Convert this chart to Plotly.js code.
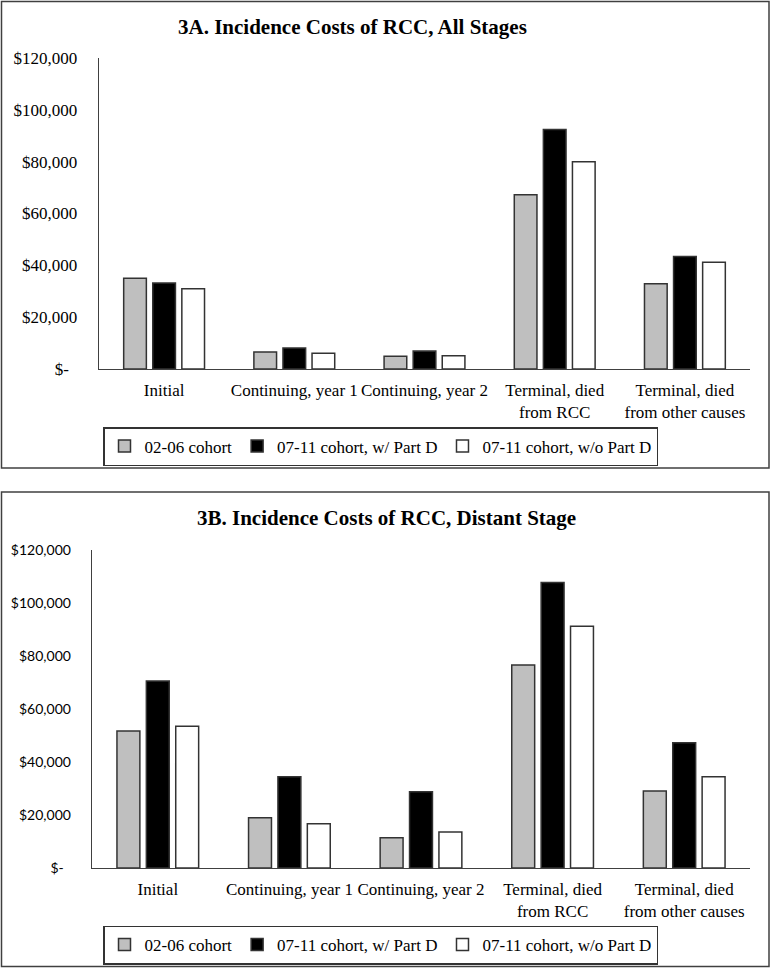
<!DOCTYPE html>
<html>
<head>
<meta charset="utf-8">
<script src="https://cdn.plot.ly/plotly-3.0.1.min.js"></script>
<style>
html,body{margin:0;padding:0;background:#fff;}
#chart{width:771px;height:968px;}
</style>
</head>
<body>
<div id="chart"></div>
<script>
// ---- data ----
const categories = ['Initial', 'Continuing, year 1', 'Continuing, year 2', 'Terminal, died<br>from RCC', 'Terminal, died<br>from other causes'];
const seriesNames = ['02-06 cohort', '07-11 cohort, w/ Part D', '07-11 cohort, w/o Part D'];

const allStages_0206 = [35000, 6600, 4900, 67200, 32900];
const allStages_withD = [33200, 8100, 6900, 92400, 43400];
const allStages_withoutD = [31000, 6100, 5100, 80000, 41200];

const distant_0206 = [51600, 18900, 11400, 76500, 29000];
const distant_withD = [70500, 34400, 28700, 107600, 47200];
const distant_withoutD = [53400, 16700, 13600, 91100, 34400];

const yTickVals = [0, 20000, 40000, 60000, 80000, 100000, 120000];
const yTickText = ['$-\u00a0\u00a0', '$20,000', '$40,000', '$60,000', '$80,000', '$100,000', '$120,000'];

const titleA = '3A. Incidence Costs of RCC, All Stages';
const titleB = '3B. Incidence Costs of RCC, Distant Stage';

// ---- styling ----
const W = 771, H = 968;
const px = x => x / W;
const py = y => 1 - y / H;
const fills = ['#bfbfbf', '#000000', '#ffffff'];
const edge = '#333333';
const serif = 'Liberation Serif';

function bars(values, i, xa, ya, leg) {
  return {
    type: 'bar', x: categories, y: values, name: seriesNames[i],
    xaxis: xa, yaxis: ya, legend: leg,
    marker: {color: fills[i], line: {color: edge, width: 1.5}},
    hoverinfo: 'y'
  };
}

const data = [
  bars(allStages_0206, 0, 'x', 'y', 'legend'),
  bars(allStages_withD, 1, 'x', 'y', 'legend'),
  bars(allStages_withoutD, 2, 'x', 'y', 'legend'),
  bars(distant_0206, 0, 'x2', 'y2', 'legend2'),
  bars(distant_withD, 1, 'x2', 'y2', 'legend2'),
  bars(distant_withoutD, 2, 'x2', 'y2', 'legend2')
];

const xBase = {
  type: 'category', showline: true, linecolor: '#404040', linewidth: 1.3,
  showgrid: false, zeroline: false, ticks: '', tickangle: 0,
  tickfont: {family: serif, size: 17, color: '#000'}, ticklabelstandoff: 5,
  fixedrange: true
};
const yBase = {
  range: [0, 120000], tickvals: yTickVals, ticktext: yTickText,
  showline: true, linecolor: '#404040', linewidth: 1.3,
  showgrid: false, zeroline: false, ticks: '', ticklabelstandoff: 17,
  fixedrange: true
};

const legBase = {
  orientation: 'h', xanchor: 'left', yanchor: 'top',
  bordercolor: '#333', borderwidth: 1.5, bgcolor: '#fff',
  font: {family: serif, size: 17, color: '#000'},
  itemwidth: 30, traceorder: 'normal'
};

const layout = {
  width: W, height: H,
  margin: {l: 0, r: 0, t: 0, b: 0},
  paper_bgcolor: '#fff', plot_bgcolor: '#fff',
  barmode: 'group', bargap: 0.33, bargroupgap: 0.22,
  showlegend: true,
  xaxis: Object.assign({}, xBase, {domain: [px(99), px(750)], anchor: 'y'}),
  yaxis: Object.assign({}, yBase, {domain: [py(369), py(58)], anchor: 'x',
    tickfont: {family: serif, size: 17, color: '#000'}}),
  xaxis2: Object.assign({}, xBase, {domain: [px(92), px(750)], anchor: 'y2'}),
  yaxis2: Object.assign({}, yBase, {domain: [py(868), py(549.6)], anchor: 'x2',
    tickfont: {family: 'Lato', size: 14, color: '#000'}}),
  legend: Object.assign({}, legBase, {x: px(103), y: py(427)}),
  legend2: Object.assign({}, legBase, {x: px(103), y: py(925.5)}),
  annotations: [
    {text: '<b>' + titleA + '</b>', xref: 'paper', yref: 'paper', x: px(352), y: py(27),
     xanchor: 'center', yanchor: 'middle', showarrow: false,
     font: {family: serif, size: 21, color: '#000'}},
    {text: '<b>' + titleB + '</b>', xref: 'paper', yref: 'paper', x: px(386), y: py(518),
     xanchor: 'center', yanchor: 'middle', showarrow: false,
     font: {family: serif, size: 21, color: '#000'}}
  ],
  shapes: [
    {type: 'rect', xref: 'paper', yref: 'paper', x0: px(1.5), x1: px(769), y0: py(468), y1: py(1.5),
     line: {color: '#404040', width: 1.5}},
    {type: 'rect', xref: 'paper', yref: 'paper', x0: px(1.5), x1: px(769), y0: py(966.5), y1: py(492),
     line: {color: '#404040', width: 1.5}}
  ]
};

Plotly.newPlot('chart', data, layout, {displayModeBar: false, staticPlot: true});
</script>
</body>
</html>
